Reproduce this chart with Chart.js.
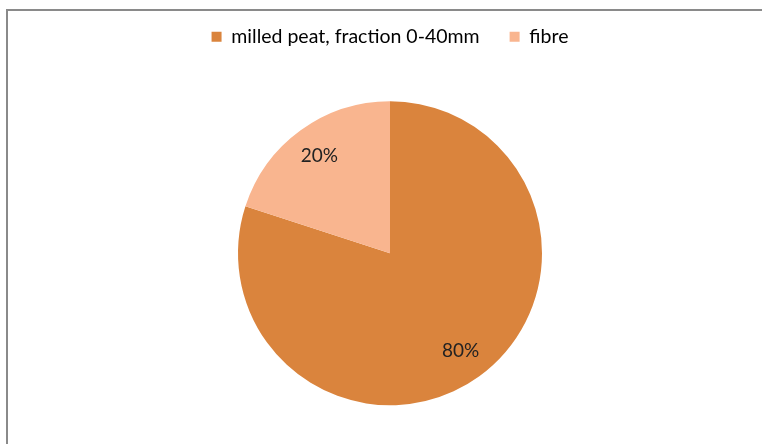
<!DOCTYPE html>
<html>
<head>
<meta charset="utf-8">
<script src="https://cdn.jsdelivr.net/npm/chart.js@4"></script>
<style>
  html, body { margin: 0; padding: 0; background: #fff; overflow: hidden; }
  #wrap {
    position: absolute; left: 6px; top: 9px;
    width: 756px; height: 435px; overflow: hidden;
    border-top: 2px solid #8a8a8a; border-left: 2px solid #8a8a8a;
  }
  #box { position: relative; width: 754px; height: 460px; }
</style>
</head>
<body>
<div id="wrap"><div id="box"><canvas id="myChart"></canvas></div></div>
<script>
const categories = ['milled peat, fraction 0-40mm', 'fibre'];
const shares = [80, 20];
const sliceColors = ['#DA843D', '#F9B58F'];

// percent labels inside slices
const sliceLabels = {
  id: 'sliceLabels',
  afterDatasetsDraw(chart) {
    const ctx = chart.ctx;
    const meta = chart.getDatasetMeta(0);
    const total = shares.reduce((a, b) => a + b, 0);
    ctx.save();
    ctx.font = '19px Lato, "Open Sans", sans-serif';
    ctx.fillStyle = '#222';
    ctx.textAlign = 'center';
    ctx.textBaseline = 'middle';
    meta.data.forEach((arc, i) => {
      const mid = (arc.startAngle + arc.endAngle) / 2;
      const r = arc.outerRadius * 0.79;
      const x = arc.x + Math.cos(mid) * r;
      const y = arc.y + Math.sin(mid) * r;
      ctx.fillText(Math.round(shares[i] / total * 100) + '%', x, y);
    });
    ctx.restore();
  }
};

const ctx = document.getElementById('myChart').getContext('2d');
const chart = new Chart(ctx, {
  type: 'pie',
  data: {
    labels: categories,
    datasets: [{
      data: shares,
      backgroundColor: sliceColors,
      borderWidth: 0,
      radius: 152,
    }]
  },
  options: {
    responsive: true,
    maintainAspectRatio: false,
    animation: false,
    layout: { padding: { top: -14, left: 10, right: 0, bottom: 21 } },
    plugins: {
      legend: {
        position: 'top',
        labels: {
          boxWidth: 10,
          boxHeight: 10,
          padding: 30,
          color: '#222',
          font: { family: 'Lato, "Open Sans", sans-serif', size: 19.5 },
          generateLabels(chart) {
            return categories.map((c, i) => ({
              text: c, fillStyle: sliceColors[i], strokeStyle: sliceColors[i],
              lineWidth: 0, hidden: false, index: i
            }));
          }
        }
      },
      tooltip: { enabled: false }
    }
  },
  plugins: [sliceLabels]
});
</script>
</body>
</html>
